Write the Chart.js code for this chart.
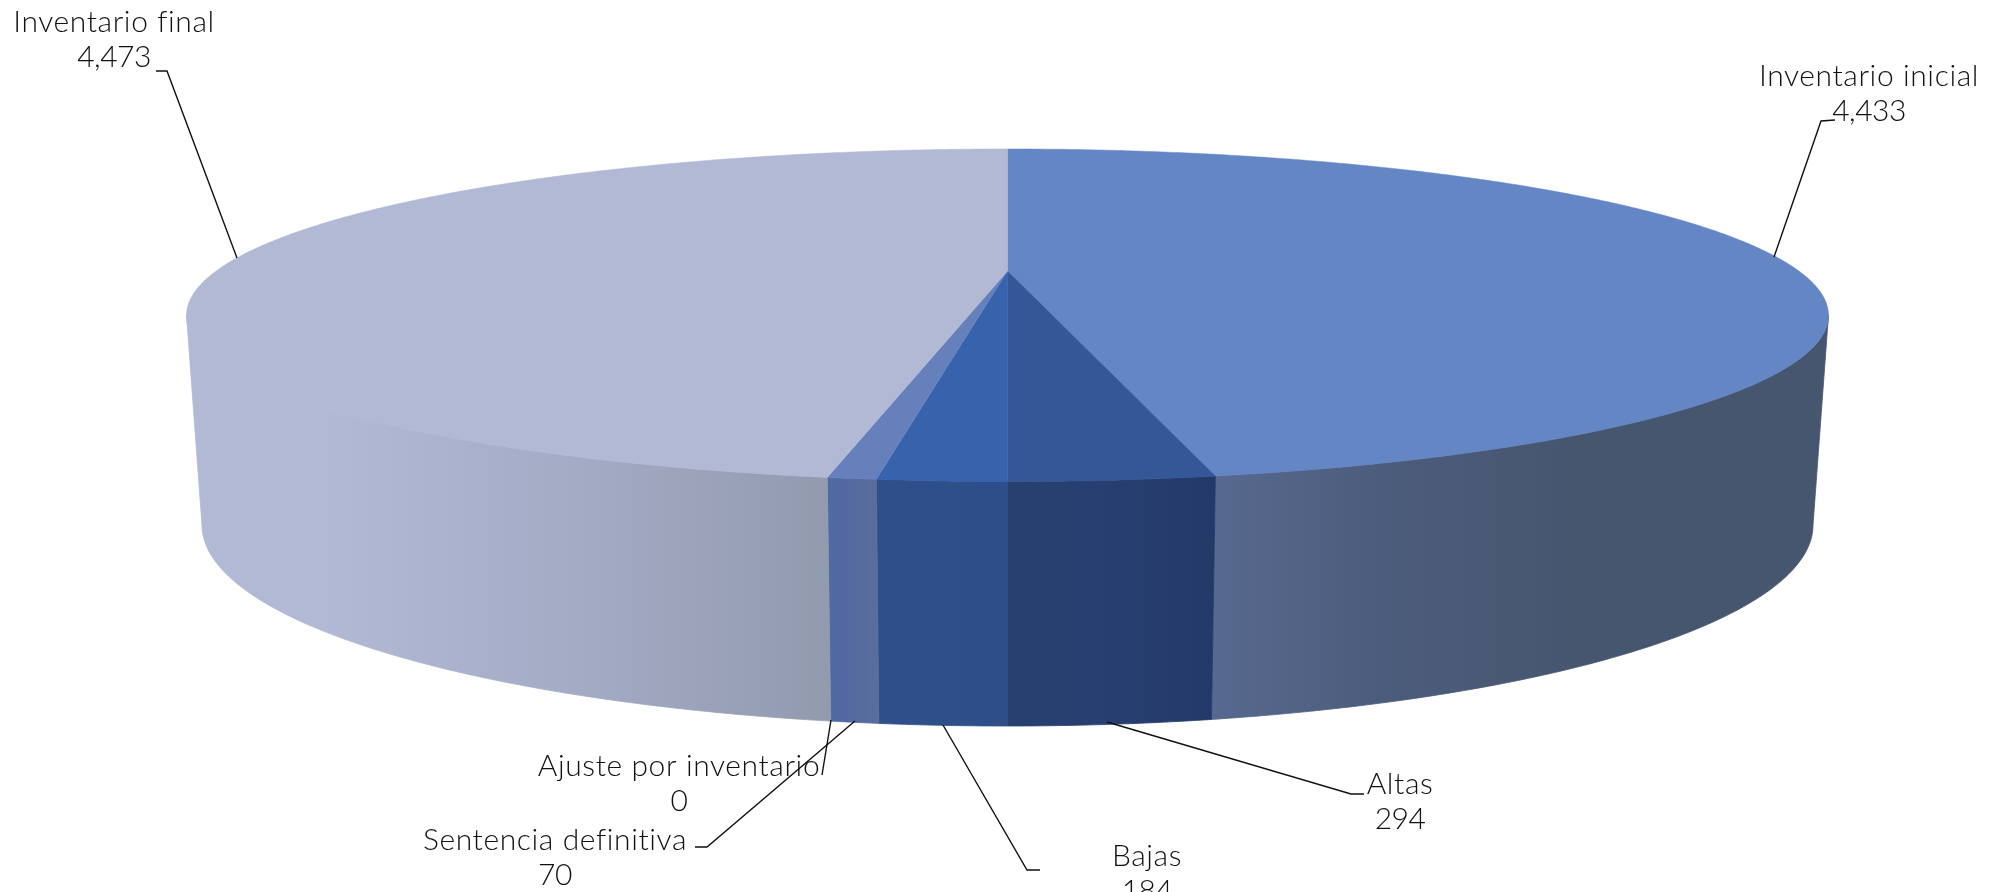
<!DOCTYPE html>
<html>
<head>
<meta charset="utf-8">
<title>Inventario</title>
<script src="https://cdn.jsdelivr.net/npm/chart.js@4/dist/chart.umd.min.js"></script>
<style>
  html, body { margin: 0; padding: 0; background: #fff; overflow: hidden; }
  canvas { display: block; }
</style>
</head>
<body>
<canvas id="pie" width="1995" height="892"></canvas>
<script>
const categories = ['Inventario inicial', 'Altas', 'Bajas', 'Sentencia definitiva', 'Ajuste por inventario', 'Inventario final']
const values = [4433, 294, 184, 70, 0, 4473]
const topColors = ['#6486c4', '#345798', '#3763ac', '#6680bc', '#6680bc', '#b1b9d5']
// wall gradients, left to right
const wallColors = [
  ['#57698f', '#4b5b7a', '#47566f'],
  ['#27406f', '#273f70', '#233a69'],
  ['#2e4f8a', '#2e4f8a', '#2d4e89'],
  ['#4f6aa4', '#54699e', '#5a6e9c'],
  ['#5a6e9c', '#5a6e9c', '#5a6e9c'],
  ['#b1b9d5', '#a4abc5', '#929aae']
]

// label text centre x, first line y, leader line points
const labelSpots = [
  { x: 1869, y: 76, line: [[1774, 257], [1821, 121], [1835, 120]] },
  { x: 1400, y: 784, line: [[1107, 722], [1351, 794], [1364, 794]] },
  { x: 1147, y: 856, line: [[943, 725], [1027, 870], [1040, 870]] },
  { x: 555, y: 840, line: [[855, 721], [707, 847], [695, 847]] },
  { x: 679, y: 766, line: [[831, 720], [822, 775]] },
  { x: 114, y: 22, line: [[237, 258], [167, 71], [156, 71]] }
]

// rim ellipses of the tilted disc (perspective: front looks bigger)
const centerX = 1007.5
const tilt = -0.266
const topRim = { c: 791.4, a: 154.5, b: 271 }
const lowRim = { c: 776.5, a: 186.8, b: 471.5 }

function project(rim, angle) {
  let w = 1 + tilt * Math.sin(angle)
  return [centerX + rim.c * Math.cos(angle) / w, rim.b + rim.a * Math.sin(angle) / w]
}

function rimPoints(rim, from, to) {
  let pts = []
  let steps = Math.max(2, Math.ceil(Math.abs(to - from) * 120))
  for (let i = 0; i <= steps; i++) pts.push(project(rim, from + (to - from) * i / steps))
  return pts
}

const tiltedPie = {
  id: 'tiltedPie',
  beforeDatasetsDraw(chart) {
    let ctx = chart.ctx
    let arcs = chart.getDatasetMeta(0).data
    let edge = Math.asin(-tilt)

    // walls first, only the front part shows
    arcs.forEach((arc, i) => {
      let from = Math.max(arc.startAngle, edge)
      let to = Math.min(arc.endAngle, Math.PI - edge)
      if (to <= from) return
      let upper = rimPoints(topRim, from, to)
      let lower = rimPoints(lowRim, to, from)
      let xs = upper.concat(lower).map(p => p[0])
      let x0 = Math.min(...xs), x1 = Math.max(...xs)
      let grad = ctx.createLinearGradient(x0, 0, x1, 0)
      let cols = wallColors[i]
      if (i == 5) {
        grad.addColorStop(0, cols[0])
        grad.addColorStop(0.22, cols[0])
        grad.addColorStop(0.6, cols[1])
        grad.addColorStop(1, cols[2])
      } else if (i == 0) {
        grad.addColorStop(0, cols[0])
        grad.addColorStop(0.3, cols[1])
        grad.addColorStop(0.6, cols[2])
        grad.addColorStop(1, cols[2])
      } else {
        grad.addColorStop(0, cols[0])
        grad.addColorStop(0.5, cols[1])
        grad.addColorStop(1, cols[2])
      }
      ctx.beginPath()
      upper.concat(lower).forEach((p, n) => n ? ctx.lineTo(p[0], p[1]) : ctx.moveTo(p[0], p[1]))
      ctx.closePath()
      ctx.fillStyle = grad
      ctx.strokeStyle = grad
      ctx.lineWidth = 0.8
      ctx.fill()
      ctx.stroke()
    })

    // top face
    arcs.forEach((arc) => {
      if (arc.endAngle - arc.startAngle <= 0) return
      ctx.beginPath()
      ctx.moveTo(centerX, topRim.b)
      rimPoints(topRim, arc.startAngle, arc.endAngle).forEach(p => ctx.lineTo(p[0], p[1]))
      ctx.closePath()
      ctx.fillStyle = arc.options.backgroundColor
      ctx.strokeStyle = arc.options.backgroundColor
      ctx.lineWidth = 0.5
      ctx.fill()
      ctx.stroke()
    })
    return false
  },
  afterDraw(chart) {
    let ctx = chart.ctx
    ctx.save()
    ctx.strokeStyle = '#111'
    ctx.lineWidth = 1.4
    labelSpots.forEach((spot) => {
      ctx.beginPath()
      spot.line.forEach((p, n) => n ? ctx.lineTo(p[0], p[1]) : ctx.moveTo(p[0], p[1]))
      ctx.stroke()
    })
    ctx.fillStyle = '#111'
    ctx.font = '300 30px Lato'
    ctx.textAlign = 'center'
    ctx.textBaseline = 'middle'
    labelSpots.forEach((spot, i) => {
      ctx.letterSpacing = '0.6px'
      ctx.fillText(categories[i], spot.x, spot.y)
      // digits run wide in this font
      ctx.letterSpacing = '-0.5px'
      ctx.fillText(values[i].toLocaleString('en-US'), spot.x, spot.y + 35)
    })
    ctx.restore()
  }
}

new Chart(document.getElementById('pie'), {
  type: 'pie',
  data: {
    labels: categories,
    datasets: [{ data: values, backgroundColor: topColors, borderWidth: 0 }]
  },
  options: {
    responsive: false,
    animation: false,
    plugins: { legend: { display: false }, tooltip: { enabled: false } }
  },
  plugins: [tiltedPie]
})
</script>
</body>
</html>
